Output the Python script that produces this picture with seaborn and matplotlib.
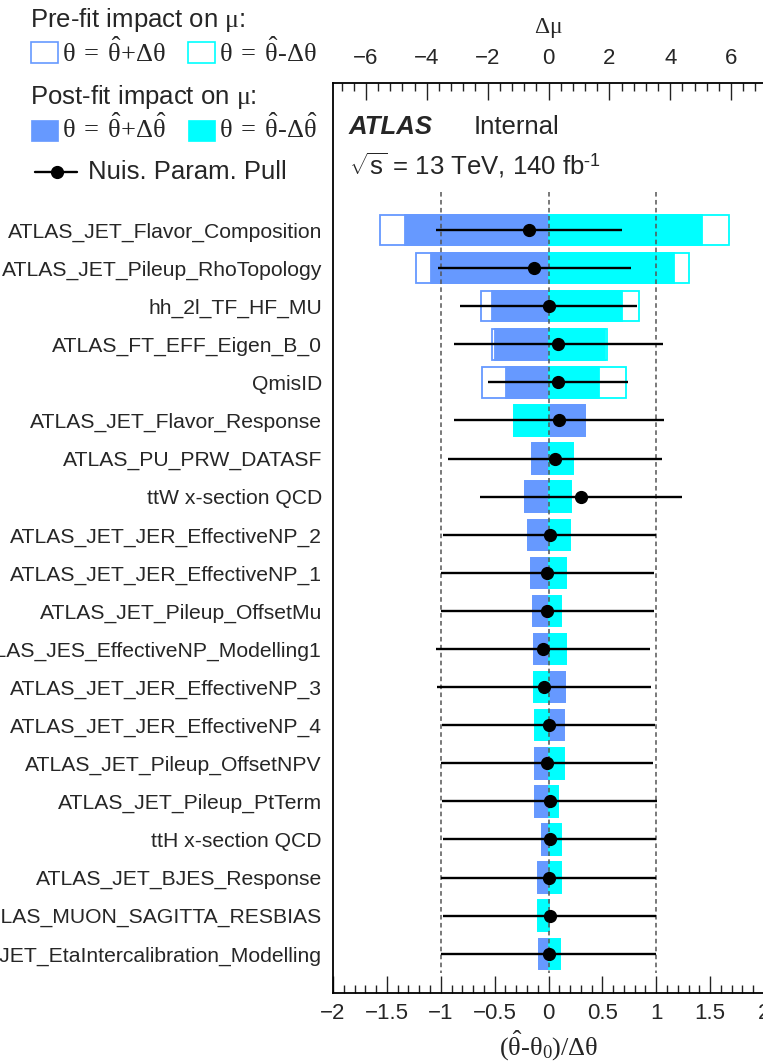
import numpy as np
import matplotlib
matplotlib.use("Agg")
import matplotlib.pyplot as plt
from matplotlib.patches import Rectangle
from matplotlib.lines import Line2D
from matplotlib.ticker import MultipleLocator, FuncFormatter
import seaborn as sns

# ---------------- data ----------------
labels = [
    "ATLAS_JET_Flavor_Composition",
    "ATLAS_JET_Pileup_RhoTopology",
    "hh_2l_TF_HF_MU",
    "ATLAS_FT_EFF_Eigen_B_0",
    "QmisID",
    "ATLAS_JET_Flavor_Response",
    "ATLAS_PU_PRW_DATASF",
    "ttW x-section QCD",
    "ATLAS_JET_JER_EffectiveNP_2",
    "ATLAS_JET_JER_EffectiveNP_1",
    "ATLAS_JET_Pileup_OffsetMu",
    "ATLAS_JES_EffectiveNP_Modelling1",
    "ATLAS_JET_JER_EffectiveNP_3",
    "ATLAS_JET_JER_EffectiveNP_4",
    "ATLAS_JET_Pileup_OffsetNPV",
    "ATLAS_JET_Pileup_PtTerm",
    "ttH x-section QCD",
    "ATLAS_JET_BJES_Response",
    "ATLAS_MUON_SAGITTA_RESBIAS",
    "ATLAS_JET_EtaIntercalibration_Modelling",
]
# impact on mu (Delta mu)
postfit_up = [-4.72, -3.87, -1.86, -1.77, -1.39, 1.19, -0.53, -0.78, -0.68, -0.58,
              -0.51, -0.48, 0.53, 0.50, -0.45, -0.45, -0.21, -0.34, -0.02, -0.32]
postfit_down = [5.05, 4.13, 2.43, 1.87, 1.65, -1.12, 0.81, 0.73, 0.69, 0.56,
                0.40, 0.56, -0.47, -0.45, 0.52, 0.31, 0.41, 0.41, -0.34, 0.38]
prefit_up = [-5.52, -4.34, -2.23, -1.84, -2.17, 1.19, -0.53, -0.78, -0.68, -0.58,
             -0.51, -0.48, 0.53, 0.50, -0.45, -0.45, -0.21, -0.34, -0.02, -0.32]
prefit_down = [5.93, 4.61, 2.98, 1.91, 2.53, -1.12, 0.81, 0.73, 0.69, 0.56,
               0.40, 0.56, -0.47, -0.45, 0.52, 0.31, 0.41, 0.41, -0.34, 0.38]
# nuisance parameter pulls
pulls = [-0.18, -0.13, 0.00, 0.09, 0.09, 0.10, 0.06, 0.30, 0.01, -0.01,
         -0.01, -0.05, -0.04, 0.00, -0.015, 0.01, 0.01, 0.00, 0.01, 0.00]
pull_err = [0.86, 0.90, 0.82, 0.97, 0.65, 0.975, 0.995, 0.94, 0.99, 0.99,
            0.99, 0.99, 0.995, 0.99, 0.985, 1.00, 0.99, 1.00, 0.99, 1.00]

# ---------------- style ----------------
sns.set_style("white")
plt.rcParams["font.family"] = ["Liberation Sans", "DejaVu Sans"]
plt.rcParams["mathtext.fontset"] = "custom"
plt.rcParams["mathtext.rm"] = "Liberation Serif"
plt.rcParams["mathtext.it"] = "Liberation Serif:italic"
plt.rcParams["mathtext.sf"] = "Liberation Sans"
plt.rcParams["mathtext.bf"] = "Liberation Serif:bold"

BLUE = "#6699ff"
CYAN = "#00ffff"
W, H = 763, 1063

fig = plt.figure(figsize=(W / 100, H / 100), dpi=100)
fig.patch.set_facecolor("white")
ax = fig.add_axes([333 / W, 1 - 993 / H, 431 / W, 910 / H])
axt = ax.twiny()
ax.set_zorder(axt.get_zorder() + 1)
ax.patch.set_visible(False)

# impact bars (top axis, Delta mu)
bar_kw = dict(orient="h", ax=axt, width=0.8, saturation=1, errorbar=None)
sns.barplot(x=prefit_up, y=labels, fill=False, color=BLUE, linewidth=1.3, **bar_kw)
sns.barplot(x=prefit_down, y=labels, fill=False, color=CYAN, linewidth=1.3, **bar_kw)
sns.barplot(x=postfit_up, y=labels, color=BLUE, edgecolor=BLUE, linewidth=1.3, **bar_kw)
sns.barplot(x=postfit_down, y=labels, color=CYAN, edgecolor=CYAN, linewidth=1.3, **bar_kw)

ypos = np.arange(len(labels))
# reference lines and pulls (bottom axis)
ax.vlines([-1, 0, 1], -1.0, 19.5, colors="#555555", linestyles=(0, (3, 2.2)),
          linewidth=1.1, zorder=3)
ax.errorbar(pulls, ypos, xerr=pull_err, fmt="o", color="black", ms=8.5,
            lw=1.7, capsize=0, zorder=5)

ax.set_xlim(-2, 2)
axt.set_xlim(-7.08, 7.08)
ax.set_ylim(20.03, -3.86)

ax.set_yticks(ypos)
ax.set_yticklabels(labels, fontsize=15.2)
axt.set_ylabel("")
ax.set_ylabel("")

fmt = FuncFormatter(lambda v, p: ("%g" % v).replace("-", "\u2212"))
ax.xaxis.set_major_locator(MultipleLocator(0.5))
ax.xaxis.set_minor_locator(MultipleLocator(0.1))
ax.xaxis.set_major_formatter(fmt)
axt.xaxis.set_major_locator(MultipleLocator(2))
axt.xaxis.set_minor_locator(MultipleLocator(0.4))
axt.xaxis.set_major_formatter(fmt)

ax.tick_params(axis="x", which="major", direction="in", length=12, width=1.0,
               labelsize=16, pad=7, top=False, bottom=True, color="#222222")
ax.tick_params(axis="x", which="minor", direction="in", length=6, width=1.0,
               top=False, bottom=True, color="#222222")
ax.tick_params(axis="y", which="both", length=0, pad=8)
axt.tick_params(axis="x", which="major", direction="in", length=12, width=1.0,
                labelsize=16, pad=10, top=True, bottom=False, color="#222222")
axt.tick_params(axis="x", which="minor", direction="in", length=6, width=1.0,
                top=True, bottom=False, color="#222222")

for s in axt.spines.values():
    s.set_visible(False)
for s in ax.spines.values():
    s.set_visible(True)
    s.set_color("black")
    s.set_linewidth(1.3)

ax.set_xlabel(r"$\mathrm{(\hat{\theta}}\text{-}\mathrm{\theta_{0})/\Delta\theta}$",
              fontsize=19, labelpad=4)
axt.set_xlabel(r"$\mathrm{\Delta\mu}$", fontsize=17, labelpad=11)

# ATLAS label
ax.text(0.037, 0.952, "ATLAS", transform=ax.transAxes, fontsize=18.5,
        weight="bold", style="italic", va="center", ha="left")
ax.text(0.327, 0.952, "Internal", transform=ax.transAxes, fontsize=18.5,
        va="center", ha="left")
ax.text(0.037, 0.910, r"$\sqrt{\mathsf{s}}$ = 13 TeV, 140 fb$^{\mathsf{\text{-}1}}$",
        transform=ax.transAxes, fontsize=18.5, va="center", ha="left")

# ---------------- legend ----------------
def fx(x):
    return x / W

def fy(y):
    return 1 - y / H

fig.text(fx(30), fy(20), r"Pre-fit impact on $\mathrm{\mu}$:", fontsize=18.5, va="center")
fig.add_artist(Rectangle((fx(31), fy(63)), 27 / W, 21 / H, fill=False,
                         edgecolor=BLUE, lw=1.2, transform=fig.transFigure))
fig.text(fx(62), fy(52), r"$\mathrm{\theta\;=\;\hat{\theta}{+}\Delta\theta}$", fontsize=19, va="center")
fig.add_artist(Rectangle((fx(188), fy(63)), 27 / W, 21 / H, fill=False,
                         edgecolor=CYAN, lw=1.2, transform=fig.transFigure))
fig.text(fx(219), fy(52), r"$\mathrm{\theta\;=\;\hat{\theta}}\text{-}\mathrm{\Delta\theta}$", fontsize=19, va="center")

fig.text(fx(30), fy(97), r"Post-fit impact on $\mathrm{\mu}$:", fontsize=18.5, va="center")
fig.add_artist(Rectangle((fx(31), fy(141)), 27 / W, 21 / H, facecolor=BLUE,
                         edgecolor=BLUE, lw=0.5, transform=fig.transFigure))
fig.text(fx(62), fy(128), r"$\mathrm{\theta\;=\;\hat{\theta}{+}\Delta\hat{\theta}}$", fontsize=19, va="center")
fig.add_artist(Rectangle((fx(188), fy(141)), 27 / W, 21 / H, facecolor=CYAN,
                         edgecolor=CYAN, lw=0.5, transform=fig.transFigure))
fig.text(fx(219), fy(128), r"$\mathrm{\theta\;=\;\hat{\theta}}\text{-}\mathrm{\Delta\hat{\theta}}$", fontsize=19, va="center")

fig.add_artist(Line2D([fx(35), fx(77)], [fy(172), fy(172)], color="black", lw=1.7,
                      transform=fig.transFigure))
fig.add_artist(Line2D([fx(57)], [fy(172)], color="black", marker="o", ms=8.5,
                      transform=fig.transFigure))
fig.text(fx(88), fy(172), "Nuis. Param. Pull", fontsize=18.5, va="center")

fig.savefig("out.png", dpi=100, facecolor="white")
